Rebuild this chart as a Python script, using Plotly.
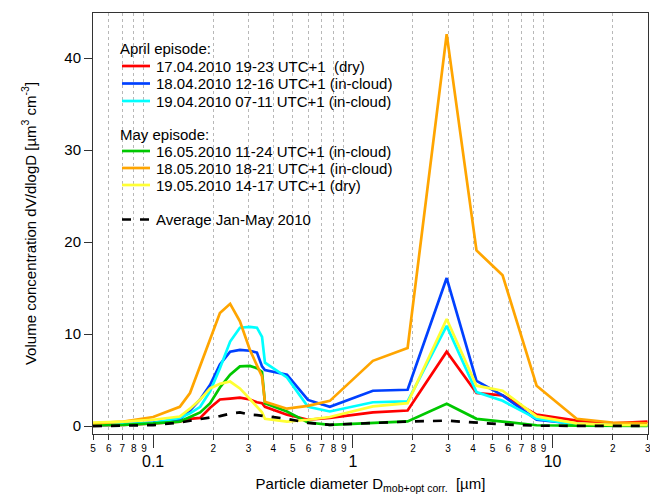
import numpy as np
import plotly.graph_objects as go

# Particle diameters (um): SMPS part then OPC part
diam = [0.05, 0.071, 0.1, 0.136, 0.153, 0.172, 0.193, 0.216, 0.243, 0.272, 0.305, 0.331, 0.351,
        0.363, 0.468, 0.596, 0.767, 1.26, 1.88, 2.95, 4.16, 5.62, 8.32, 13.2, 19.9, 29.9]

# dV/dlogD for each episode
apr17 = [0.1, 0.15, 0.3, 0.5, 0.8, 0.9, 2.0, 2.9, 3.0, 3.1, 2.9, 2.6, 2.5,
         2.1, 1.25, 0.7, 0.9, 1.5, 1.7, 8.1, 3.6, 3.34, 1.25, 0.6, 0.3, 0.5]
apr18 = [0.1, 0.2, 0.4, 0.7, 1.7, 2.9, 4.5, 6.7, 8.1, 8.3, 8.2, 8.0, 6.5,
         6.1, 5.6, 2.85, 2.1, 3.85, 3.96, 16.1, 4.93, 3.34, 0.7, 0.24, 0.1, 0.05]
apr19 = [0.1, 0.2, 0.35, 0.9, 1.4, 2.1, 3.8, 6.3, 9.2, 10.7, 10.8, 10.7, 9.7,
         6.9, 5.3, 2.1, 1.6, 2.6, 2.7, 10.9, 3.7, 2.76, 0.8, 0.2, 0.1, 0.05]
may16 = [0.1, 0.15, 0.3, 0.5, 1.0, 1.5, 2.5, 4.2, 5.6, 6.5, 6.55, 6.3, 5.9,
         2.5, 1.6, 0.4, 0.15, 0.4, 0.52, 2.44, 0.8, 0.5, 0.1, 0.05, 0.02, 0.02]
may18 = [0.3, 0.5, 1.0, 2.1, 3.6, 6.5, 9.4, 12.3, 13.3, 11.4, 8.3, 6.5, 5.4,
         2.65, 1.9, 2.2, 2.75, 7.1, 8.5, 42.6, 19.1, 16.4, 4.4, 0.81, 0.4, 0.3]
may19 = [0.4, 0.5, 0.7, 1.05, 1.9, 2.9, 4.1, 4.6, 4.85, 4.1, 2.95, 2.1, 1.5,
         0.8, 0.5, 0.7, 1.0, 2.15, 2.5, 11.65, 4.4, 3.85, 1.06, 0.3, 0.15, 0.1]
avg = [0.0, 0.05, 0.12, 0.4, 0.6, 0.75, 0.95, 1.1, 1.35, 1.5, 1.25, 1.2, 1.15,
       1.1, 0.8, 0.35, 0.15, 0.35, 0.5, 0.6, 0.35, 0.2, 0.05, 0.05, 0.02, 0.02]

# tick positions / labels on the log axis
minor_vals = [0.05, 0.06, 0.07, 0.08, 0.09, 0.2, 0.3, 0.4, 0.5, 0.6, 0.7, 0.8, 0.9,
              2, 3, 4, 5, 6, 7, 8, 9, 20, 30]
minor_text = ["5", "6", "7", "8", "9", "2", "3", "4", "5", "6", "7", "8", "9",
              "2", "3", "4", "5", "6", "7", "8", "9", "2", "3"]
major_vals = [0.1, 1, 10]
major_text = ["0.1", "1", "10"]

# legend content (header, label, data, colour, dash)
legend_rows = [
    ("April episode:", None, None, None, None),
    (None, "17.04.2010 19-23 UTC+1 \u00a0(dry)", apr17, "#ff0000", "solid"),
    (None, "18.04.2010 12-16 UTC+1 (in-cloud)", apr18, "#0040ff", "solid"),
    (None, "19.04.2010 07-11 UTC+1 (in-cloud)", apr19, "#00ffff", "solid"),
    ("May episode:", None, None, None, None),
    (None, "16.05.2010 11-24 UTC+1 (in-cloud)", may16, "#00c800", "solid"),
    (None, "18.05.2010 18-21 UTC+1 (in-cloud)", may18, "#ffa500", "solid"),
    (None, "19.05.2010 14-17 UTC+1 (dry)", may19, "#ffff33", "solid"),
    (None, "Average Jan-May 2010", avg, "black", "dash"),
]
row_y = [49, 66, 83.5, 101, 134.5, 151, 168, 185, 219.5]  # pixel rows of legend

# plot area in pixels
L, R, T, B = 93, 648, 13, 434
W, H = 650, 494


def px(x):
    return (x - L) / (R - L)


def py(y):
    return (B - y) / (B - T)


font = "Liberation Sans, Arial, sans-serif"
fig = go.Figure()

annotations = []
shapes = [dict(type="rect", xref="paper", yref="paper", layer="between",
               x0=px(100), x1=px(410), y0=py(244), y1=py(30),
               fillcolor="white", line=dict(width=0))]

for (head, name, vals, col, dash), yy in zip(legend_rows, row_y):
    if head:
        annotations.append(dict(text=head, xref="paper", yref="paper", x=px(118), y=py(yy),
                                xanchor="left", yanchor="middle", showarrow=False,
                                font=dict(size=15)))
        continue
    fig.add_trace(go.Scatter(x=diam, y=vals, mode="lines", name=name,
                             line=dict(color=col, width=2.7, dash=dash)))
    shapes.append(dict(type="line", xref="paper", yref="paper",
                       x0=px(122), x1=px(150), y0=py(yy), y1=py(yy),
                       line=dict(color=col, width=2.7, dash="dash" if dash == "dash" else "solid")))
    annotations.append(dict(text=name, xref="paper", yref="paper", x=px(154), y=py(yy),
                            xanchor="left", yanchor="middle", showarrow=False,
                            font=dict(size=15)))

# overlay axis carrying the decade labels
fig.add_trace(go.Scatter(x=diam, y=avg, mode="lines", xaxis="x2", showlegend=False,
                         hoverinfo="skip", line=dict(width=0), opacity=0))

xr = [np.log10(0.05), np.log10(30.05)]

fig.update_layout(
    width=W, height=H,
    margin=dict(l=L, r=W - R, t=T, b=H - B),
    paper_bgcolor="white", plot_bgcolor="white",
    font=dict(family=font, size=15, color="black"),
    showlegend=False,
    annotations=annotations,
    shapes=shapes,
    xaxis=dict(
        type="log", range=xr, automargin=False, ticklabeloverflow="allow",
        tickmode="array", tickvals=minor_vals, ticktext=minor_text,
        tickfont=dict(size=10), ticks="outside", ticklen=5, tickcolor="#333",
        showline=True, linecolor="#333", linewidth=1, mirror=True,
        showgrid=True, gridcolor="#b8b8b8", griddash="dot", gridwidth=1,
        title=dict(text="Particle diameter D<sub>mob+opt corr.</sub>  [µm]",
                   font=dict(size=15), standoff=30),
    ),
    xaxis2=dict(
        type="log", range=xr, overlaying="x", anchor="y", side="bottom", automargin=False,
        tickmode="array", tickvals=major_vals, ticktext=major_text,
        tickfont=dict(size=16), ticks="outside", ticklen=13, tickcolor="#333",
        showgrid=False, showline=False, zeroline=False,
    ),
    yaxis=dict(
        range=[-0.85, 44.9], automargin=False,
        tickvals=[0, 10, 20, 30, 40], ticks="outside", ticklen=8, tickcolor="#333",
        tickfont=dict(size=15),
        showline=True, linecolor="#333", linewidth=1, mirror=True,
        showgrid=False, zeroline=False,
        title=dict(text="Volume concentration dV/dlogD [µm<sup>3</sup> cm<sup>-3</sup>]",
                   font=dict(size=15), standoff=24),
    ),
)

# drop the default page margin so the figure sits at the window's corner
fig.write_html("out.html", config={"displayModeBar": False},
               post_script="document.body.style.margin='0';")
